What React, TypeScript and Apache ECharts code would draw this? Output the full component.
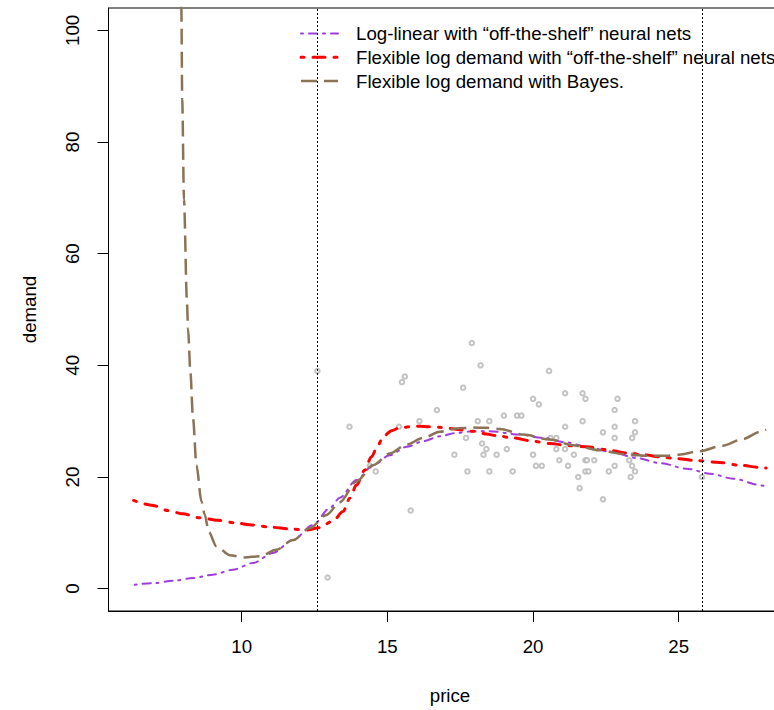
import React, { useEffect, useRef } from "react";
import * as echarts from "echarts";

const xTicks = [10, 15, 20, 25];
const yTicks = [0, 20, 40, 60, 80, 100];
const priceRangeLines = [12.6, 25.8];

const observed: [number, number][] = [
  [12.6, 39], [13.7, 29], [12.95, 2], [15.5, 37], [15.6, 38], [15.8, 14],
  [16.1, 30], [16.7, 32], [14.4, 22], [14.6, 21], [15.4, 29], [17.9, 44],
  [18.2, 40], [17.6, 36], [18.1, 30], [18.5, 30], [17.7, 27], [17.3, 24],
  [17.75, 21], [18.25, 26], [18.4, 25], [18.3, 24], [18.5, 21], [18.75, 24],
  [20.55, 39], [21.1, 35], [21.7, 35], [21.8, 34], [20.0, 34], [20.2, 33],
  [22.9, 34], [22.8, 32], [19.0, 31], [19.45, 31], [19.6, 31], [21.7, 30],
  [23.5, 30], [21.1, 29], [22.8, 29], [22.4, 28], [23.5, 28], [22.8, 27],
  [23.4, 27], [20.6, 27], [20.8, 27], [19.1, 25], [20.0, 24], [20.8, 25],
  [21.1, 25], [21.4, 24], [21.8, 23], [21.85, 23], [22.1, 23], [20.9, 23],
  [20.1, 22], [20.3, 22], [21.2, 22], [22.8, 22], [23.3, 23], [23.4, 22],
  [19.3, 21], [21.8, 21], [21.9, 21], [22.6, 21], [23.5, 21], [21.55, 20],
  [23.35, 20], [21.6, 18], [22.4, 16], [23.45, 24], [25.8, 20],
];

const logLinear: [number, number][] = [
  [6.33, 0.7], [6.96, 1.0], [7.64, 1.4], [8.33, 1.9], [9.01, 2.5], [9.7, 3.4],
  [10.39, 4.6], [11.07, 6.4], [11.76, 8.7], [12.45, 11.4], [13.02, 14.4],
  [13.37, 16.3], [13.94, 19.45], [14.51, 22.1], [15.08, 23.9], [15.66, 25.4],
  [16.23, 26.4], [16.8, 27.3], [17.37, 27.9], [17.94, 28.2], [18.51, 28.2],
  [19.54, 27.6], [20.34, 27.0], [21.14, 26.2], [21.95, 25.3], [22.75, 24.4],
  [23.55, 23.4], [24.35, 22.5], [25.27, 21.5], [26.07, 20.6], [26.87, 19.7],
  [27.84, 18.5], [28.0, 18.3],
];

const flexNets: [number, number][] = [
  [6.29, 15.8], [6.96, 14.9], [7.47, 14.0], [7.98, 13.4], [8.56, 12.7],
  [9.19, 12.25], [9.76, 11.8], [10.39, 11.4], [11.02, 11.0], [11.65, 10.7],
  [12.22, 10.5], [12.65, 10.9], [13.13, 12.1], [13.48, 13.8], [13.71, 16.2],
  [13.94, 18.55], [14.22, 21.2], [14.45, 23.6], [14.68, 25.7], [14.85, 27.2],
  [15.14, 28.3], [15.42, 28.8], [15.77, 29.0], [16.11, 29.1], [16.45, 29.0],
  [16.8, 28.9], [17.14, 28.7], [17.48, 28.45], [17.94, 28.2], [18.4, 27.7],
  [18.74, 27.4], [19.31, 27.0], [20.0, 26.4], [20.57, 26.0], [21.26, 25.6],
  [21.83, 25.4], [22.52, 24.9], [23.2, 24.3], [23.78, 24.0], [24.35, 23.6],
  [24.92, 23.3], [25.6, 22.95], [26.4, 22.6], [27.1, 22.1], [27.8, 21.7],
  [28.0, 21.6],
];

const flexBayes: [number, number][] = [
  [7.89, 125], [7.93, 104], [7.96, 87.6], [8.02, 69.75], [8.12, 51.9],
  [8.16, 46.5], [8.24, 38.8], [8.33, 30.5], [8.45, 22.1], [8.62, 15.6],
  [8.73, 13.3], [8.87, 10.2], [9.13, 7.6], [9.59, 6.0], [10.1, 5.6],
  [10.62, 5.8], [11.19, 6.95], [11.76, 8.7], [12.33, 10.8], [12.91, 13.2],
  [13.37, 15.5], [13.94, 19.2], [14.51, 22.1], [15.08, 24.2], [15.66, 25.8],
  [16.23, 27.0], [16.8, 28.1], [17.37, 28.7], [17.94, 28.85], [18.4, 28.8],
  [18.86, 28.6], [19.66, 27.6], [20.57, 26.7], [21.37, 25.7], [22.29, 24.8],
  [23.09, 24.1], [23.89, 23.8], [24.58, 23.8], [25.0, 24.0], [25.7, 24.6],
  [26.5, 25.6], [27.2, 26.8], [27.8, 28.1], [28.0, 28.5],
];

const legendLabels = [
  "Log-linear with \u201coff-the-shelf\u201d neural nets",
  "Flexible log demand with \u201coff-the-shelf\u201d neural nets",
  "Flexible log demand with Bayes.",
];

const FONT = "'Liberation Sans', Arial, Helvetica, sans-serif";
const PURPLE = "#A03CDC";
const RED = "#FF0000";
const BROWN = "#8B7355";

const lineStyles = [
  { color: PURPLE, width: 2, type: [2, 6, 8, 6], cap: "round" },
  { color: RED, width: 3, type: [3, 9, 12, 9], cap: "round" },
  { color: BROWN, width: 2.5, type: [16, 7], cap: "butt" },
];

export default function App() {
  const ref = useRef<HTMLDivElement>(null);
  useEffect(() => {
    if (!ref.current) return;
    const chart = echarts.init(ref.current, undefined, { renderer: "svg" });
    const curves = [logLinear, flexNets, flexBayes];
    const legendEls: any[] = [];
    legendLabels.forEach((label, i) => {
      const cy = 33.5 + i * 23.8;
      const ls = lineStyles[i];
      legendEls.push({
        type: "line",
        shape: { x1: 301, y1: cy, x2: 338, y2: cy },
        style: { stroke: ls.color, lineWidth: ls.width, lineDash: ls.type, lineCap: ls.cap },
      });
      legendEls.push({
        type: "text",
        x: 356,
        y: cy,
        style: {
          text: label,
          fontSize: 18.7,
          fontFamily: FONT,
          fill: "#000",
          verticalAlign: "middle",
          align: "left",
        },
      });
    });

    const option: any = {
      animation: false,
      backgroundColor: "#fff",
      grid: {
        left: 108.5,
        top: 8,
        width: 683,
        height: 605,
        show: true,
        borderColor: "#000",
        borderWidth: 1,
        backgroundColor: "transparent",
      },
      xAxis: {
        type: "value",
        min: 5.43,
        max: 28.87,
        splitLine: { show: false },
        axisLine: { show: true, onZero: false, lineStyle: { color: "#000", width: 1 } },
        axisTick: { show: true, length: 11, customValues: xTicks, lineStyle: { color: "#000" } },
        axisLabel: {
          customValues: xTicks,
          margin: 26,
          fontSize: 18.7,
          fontFamily: FONT,
          color: "#000",
        },
        name: "price",
        nameLocation: "middle",
        nameGap: 75,
        nameTextStyle: { fontSize: 18.7, fontFamily: FONT, color: "#000" },
      },
      yAxis: {
        type: "value",
        min: -4,
        max: 104,
        splitLine: { show: false },
        axisLine: { show: true, onZero: false, lineStyle: { color: "#000", width: 1 } },
        axisTick: { show: true, length: 11, customValues: yTicks, lineStyle: { color: "#000" } },
        axisLabel: {
          customValues: yTicks,
          rotate: 90,
          margin: 27,
          fontSize: 18.7,
          fontFamily: FONT,
          color: "#000",
        },
        name: "demand",
        nameLocation: "middle",
        nameRotate: 90,
        nameGap: 70,
        nameTextStyle: { fontSize: 18.7, fontFamily: FONT, color: "#000" },
      },
      graphic: { elements: legendEls },
      series: [
        {
          type: "scatter",
          data: observed,
          symbol: "emptyCircle",
          symbolSize: 4.5,
          itemStyle: { color: "#b4b4b4", borderColor: "#b4b4b4", borderWidth: 1 },
          z: 1,
          markLine: {
            silent: true,
            symbol: ["none", "none"],
            label: { show: false },
            lineStyle: { color: "#000", type: [2, 2], width: 1 },
            data: priceRangeLines.map((v) => ({ xAxis: v })),
          },
        },
        ...curves.map((d, i) => ({
          type: "line",
          data: d,
          showSymbol: false,
          smooth: 0.3,
          smoothMonotone: "x",
          clip: true,
          z: 3 + i,
          lineStyle: lineStyles[i],
        })),
      ],
    };
    chart.setOption(option);
    return () => chart.dispose();
  }, []);
  return (
    <div
      style={{
        position: "absolute",
        left: 0,
        top: 0,
        width: 774,
        height: 710,
        overflow: "hidden",
        background: "#fff",
      }}
    >
      <div ref={ref} style={{ width: 810, height: 710 }} />
    </div>
  );
}
